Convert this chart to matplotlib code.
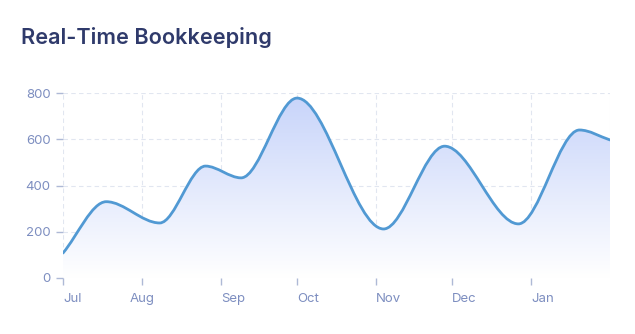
import matplotlib
matplotlib.use('Agg')
import matplotlib.pyplot as plt
import matplotlib.dates as mdates
from matplotlib.path import Path
from matplotlib.patches import PathPatch
import numpy as np
import pandas as pd

# values (turning points of the curve)
dates = ['2023-07-01', '2023-07-18', '2023-08-08', '2023-08-26', '2023-09-09',
         '2023-10-01', '2023-11-04', '2023-11-28', '2023-12-27', '2024-01-20',
         '2024-02-01']
values = [108, 330, 238, 484, 433, 778, 212, 570, 234, 640, 597]
tick_dates = ['2023-07-01', '2023-08-01', '2023-09-01', '2023-10-01',
              '2023-11-01', '2023-12-01', '2024-01-01']
tick_labels = ['Jul', 'Aug', 'Sep', 'Oct', 'Nov', 'Dec', 'Jan']
y_ticks = [0, 200, 400, 600, 800]

plt.rcParams['font.family'] = ['Inter', 'DejaVu Sans']

x = mdates.date2num(pd.to_datetime(dates))
y = np.array(values, dtype=float)


def smooth_path(x, y):
    '''Monotone cubic bezier through the points.'''
    d = np.diff(y) / np.diff(x)
    m = np.zeros(len(x))
    m[0], m[-1] = d[0], d[-1]
    for i in range(1, len(x) - 1):
        if d[i - 1] * d[i] > 0:
            m[i] = 2 / (1 / d[i - 1] + 1 / d[i])
    verts = [(x[0], y[0])]
    codes = [Path.MOVETO]
    for i in range(len(x) - 1):
        h = (x[i + 1] - x[i]) / 3
        verts += [(x[i] + h, y[i] + m[i] * h),
                  (x[i + 1] - h, y[i + 1] - m[i + 1] * h),
                  (x[i + 1], y[i + 1])]
        codes += [Path.CURVE4] * 3
    return verts, codes


verts, codes = smooth_path(x, y)

fig = plt.figure(figsize=(6.35, 3.34), dpi=100)
ax = fig.add_axes([63 / 635, 1 - 278 / 334, 547 / 635, 185 / 334])

x0, x1 = x[0], x[-1]
ax.set_xlim(x0, x1)
ax.set_ylim(0, 800)

# gradient area under the curve
fill_verts = verts + [(x1, 0), (x0, 0), (x0, y[0])]
fill_codes = codes + [Path.LINETO, Path.LINETO, Path.CLOSEPOLY]
fill = PathPatch(Path(fill_verts, fill_codes), facecolor='none', edgecolor='none')
ax.add_patch(fill)
grad = np.linspace(1, 0, 256).reshape(-1, 1)
top = np.array([0.78, 0.83, 0.98])
bot = np.array([1.0, 1.0, 1.0])
img = top * grad[..., None] + bot * (1 - grad[..., None])
im = ax.imshow(img, extent=[x0, x1, 0, 800], aspect='auto', origin='upper', zorder=1)
im.set_clip_path(fill)

line = PathPatch(Path(verts, codes), facecolor='none', edgecolor='#5199D3',
                 lw=2.0, zorder=3, capstyle='round', joinstyle='round')
ax.add_patch(line)

# grid
grid_kw = dict(color='#E1E6F0', lw=0.8, dashes=(4, 3), zorder=0)
for yt in y_ticks:
    ax.axhline(yt, **grid_kw)
for td in mdates.date2num(pd.to_datetime(tick_dates)):
    ax.axvline(td, **grid_kw)
ax.axvline(x1, color='#EEF1F7', lw=0.8, zorder=0)

for s in ax.spines.values():
    s.set_visible(False)

ax.set_yticks(y_ticks)
ax.set_yticklabels([str(v) for v in y_ticks])
ax.set_xticks(mdates.date2num(pd.to_datetime(tick_dates)))
ax.set_xticklabels(tick_labels)
ax.tick_params(axis='both', colors='#AEB9D6', labelcolor='#7D8EC0',
               labelsize=9.5, length=5, width=1)
ax.tick_params(axis='y', pad=4)
ax.tick_params(axis='x', pad=6)
for lbl, name in zip(ax.get_xticklabels(), tick_labels):
    lbl.set_horizontalalignment('center' if name == 'Aug' else 'left')

fig.text(21 / 635, 1 - 37 / 334, 'Real-Time Bookkeeping', fontsize=15.6,
         fontweight='semibold', color='#2F3A6B', va='center', ha='left')

fig.savefig('out.png', dpi=100)
